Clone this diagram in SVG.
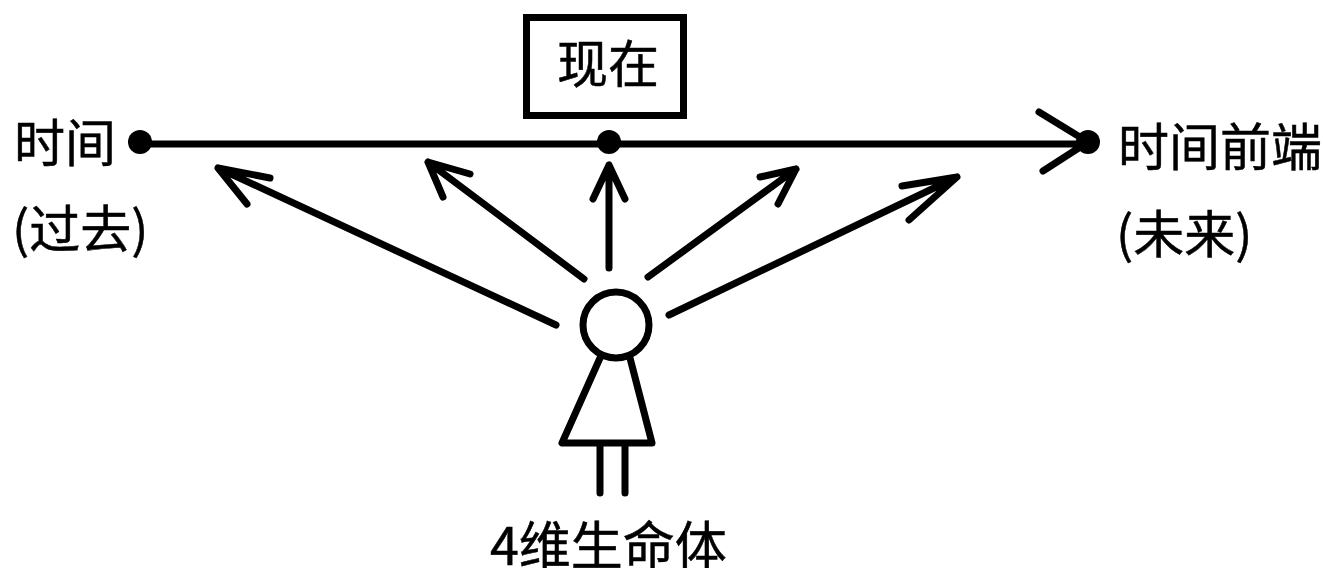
<svg xmlns="http://www.w3.org/2000/svg" width="1323" height="568" viewBox="0 0 1323 568">
<style>
.l{fill:none;stroke:#000;stroke-width:7;stroke-linecap:round;stroke-linejoin:round}
.t{font-family:"Noto Sans CJK SC","Liberation Sans",sans-serif;font-size:51px;font-weight:400;fill:#000;stroke:#000;stroke-width:.5}
</style>
<rect width="1323" height="568" fill="#fff"/>
<g id="now"><rect x="526.5" y="17.5" width="157" height="98" fill="none" stroke="#000" stroke-width="7"/><text class="t" x="557" y="83">现在</text></g>
<g id="past"><circle cx="140" cy="142" r="12"/><text class="t" x="14" y="162">时间</text><text class="t" x="12" y="248">(过去)</text></g>
<g id="present"><circle cx="609" cy="142" r="12"/></g>
<g id="future"><circle cx="1088" cy="142" r="12"/><text class="t" x="1118" y="166">时间前端</text><text class="t" x="1116" y="253">(未来)</text></g>
<g id="connectors">
<path class="l" d="M140 144H1088M1039 112L1088 142L1043 171"/>
<path class="l" d="M556 325L218 168M270 178L218 168L247 204"/>
<path class="l" d="M584 279L428 162M470 174L428 162L443 197"/>
<path class="l" d="M609 268V165M625 199L609 165L593 199"/>
<path class="l" d="M648 277L796 169M760 177L796 169L778 204"/>
<path class="l" d="M669 315L957 177M902 186L957 177L909 220"/>
</g>
<g id="being"><circle cx="616" cy="325" r="33" fill="none" stroke="#000" stroke-width="7"/>
<path class="l" d="M600 358L562 443H652L630 358M600 443V493M625 443V493"/>
<text class="t" x="490" y="565" style="font-size:52px">4维生命体</text></g>
</svg>
